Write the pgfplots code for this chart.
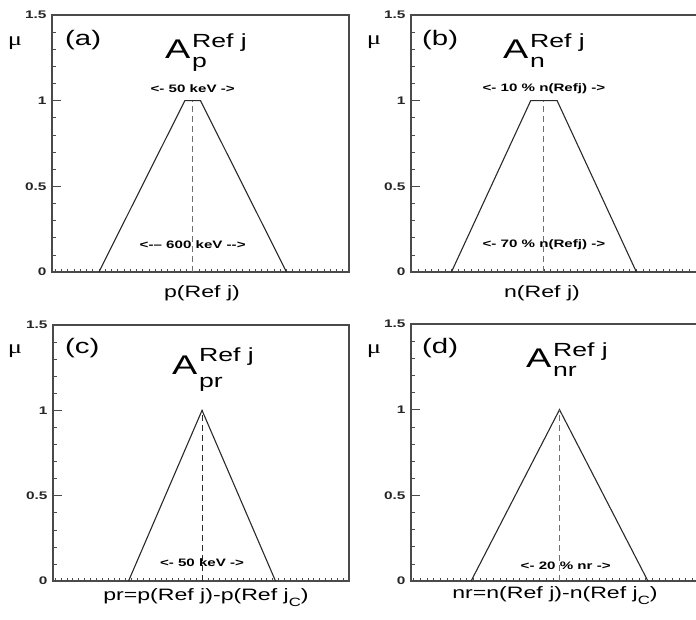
\documentclass[border=0pt]{standalone}
\usepackage{fontspec}
\setmainfont{Liberation Sans}[FakeStretch=1.4]
\newfontfamily\mufont{Liberation Serif}[FakeStretch=1.4]
\usepackage{pgfplots}
\pgfplotsset{compat=1.18}

\definecolor{framegray}{HTML}{4A4A4A}
\definecolor{curvegray}{HTML}{2A2A2A}
\definecolor{dashgray}{HTML}{707070}

\newcommand{\fs}[1]{\fontsize{#1}{#1}\selectfont}
\newcommand{\annot}{\bfseries\fs{10.8}}
\newcommand{\tl}[1]{\mbox{\bfseries\fs{11}#1}}

% A^{Ref j}_{sub} title: #1,#2 = A base, #3 = script x, #4 = sup base y, #5 = sub base y, #6 = subscript
\newcommand{\settitle}[6]{%
  \node[anchor=base west, inner sep=0, font=\fs{27}] at (#1,#2) {A};
  \node[anchor=base west, inner sep=0, font=\fs{19}] at (#3,#4) {Ref j};
  \node[anchor=base west, inner sep=0, font=\fs{19}] at (#3,#5) {#6};
}

\pgfplotsset{
  membership/.style={
    scale only axis, anchor=south west,
    width=297pt, height=257pt,
    ymin=0, ymax=1.5,
    ytick={0,0.5,1,1.5}, yticklabels={\tl{0},\tl{0.5},\tl{1},\tl{1.5}},
    minor y tick num=4,
    xtick=\empty,
    tick pos=left, tick align=inside,
    major tick length=9pt, minor tick length=4pt,
    axis line style={framegray, line width=1.1pt},
    every tick/.style={framegray, line width=0.6pt},
    yticklabel style={text=black!85, xshift=-2pt},
    /pgf/number format/assume math mode=true,
    extra x tick labels={},
    extra x tick style={major tick length=3pt},
    clip=false,
  },
  tri/.style={curvegray, line width=1.1pt},
  centreline/.style={dashgray, line width=1pt, dash pattern=on 6pt off 4pt},
}

\begin{document}
\begin{tikzpicture}[x=1pt,y=1pt]
\path[use as bounding box] (0,0) rectangle (696,619);

% (a) proton separation energy
\begin{axis}[membership, at={(52pt,347pt)}, xmin=-450, xmax=500,
  extra x ticks={-440,-420,...,480}]
  \addplot[tri] coordinates {(-300,0) (-25,1) (25,1) (300,0)};
  \addplot[centreline] coordinates {(0,0) (0,1)};
  \node[font=\annot] at (axis cs:0,1.07) {<- 50 keV ->};
  \node[font=\annot] at (axis cs:0,0.16) {<-{}-- 600 keV -{}->};
\end{axis}

% (b) neutron separation energy
\begin{axis}[membership, at={(411pt,347pt)}, xmin=-50.3, xmax=62.1,
  extra x ticks={-50,-47.5,...,60}]
  \addplot[tri] coordinates {(-35,0) (-5,1) (5,1) (35,0)};
  \addplot[centreline] coordinates {(0,0) (0,1)};
  \node[font=\annot] at (axis cs:0,1.07) {<- 10 \% n(Refj) ->};
  \node[font=\annot] at (axis cs:0,0.16) {<- 70 \% n(Refj) ->};
\end{axis}

% (c) proton energy difference
\begin{axis}[membership, at={(53pt,38pt)}, width=296pt, height=256pt,
  xmin=-50.7, xmax=50, extra x ticks={-50,-48,...,50}]
  \addplot[tri] coordinates {(-25,0) (0,1) (25,0)};
  \addplot[centreline, curvegray] coordinates {(0,0) (0,1)};
  \node[font=\annot] at (axis cs:0,0.11) {<- 50 keV ->};
\end{axis}

% (d) neutron energy difference
\begin{axis}[membership, at={(411pt,38pt)}, xmin=-16.8, xmax=16.8,
  extra x ticks={-16.5,-15.75,...,16.5}]
  \addplot[tri] coordinates {(-10,0) (0,1) (10,0)};
  \addplot[centreline] coordinates {(0,0) (0,1)};
  \node[font=\annot] at (axis cs:0.7,0.09) {<- 20 \% nr ->};
\end{axis}

% y-axis symbols
\foreach \x/\y in {15/576, 374/577, 15/268, 374/268}
  \node[font=\mufont\fs{19}] at (\x,\y) {μ};

% panel tags
\node[anchor=west, inner sep=0, font=\fs{21}] at (65,579) {(a)};
\node[anchor=west, inner sep=0, font=\fs{21}] at (422,579) {(b)};
\node[anchor=west, inner sep=0, font=\fs{21}] at (65,271) {(c)};
\node[anchor=west, inner sep=0, font=\fs{21}] at (422,271) {(d)};

% titles
\settitle{165}{560}{192}{571}{551}{p}
\settitle{503}{560}{530}{571}{551}{n}
\settitle{172}{244}{199}{257}{231}{pr}
\settitle{526}{251}{553}{262}{242}{nr}

% x-axis quantities
\node[anchor=base, font=\fs{16.5}] at (202,321) {p(Ref j)};
\node[anchor=base, font=\fs{16.5}] at (542,321) {n(Ref j)};
\node[anchor=base, font=\fs{16.5}] at (206,19)
  {pr=p(Ref j)-p(Ref j\raisebox{-6pt}{\fs{12}C})};
\node[anchor=base, font=\fs{16.5}] at (555,21)
  {nr=n(Ref j)-n(Ref j\raisebox{-6pt}{\fs{12}C})};
\end{tikzpicture}
\end{document}
